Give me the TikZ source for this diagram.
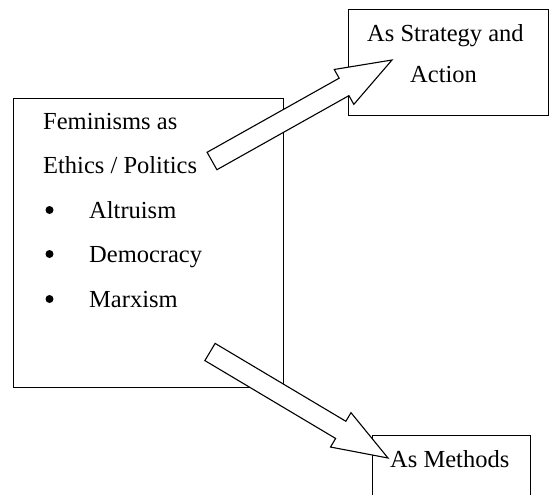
\documentclass[tikz,border=0pt]{standalone}
\usepackage{fontspec}
\setmainfont{Liberation Serif}
\usetikzlibrary{calc,positioning}
\tikzset{
  box/.style={draw,line width=1.1pt,rectangle,anchor=north west,inner sep=0pt},
  txt/.style={anchor=base west,inner sep=0pt,font=\fontsize{24.5}{30}\selectfont},
  dot/.style={circle,fill,inner sep=0pt,minimum size=8pt},
  fatarrow/.style={draw,line width=1.1pt,fill=white,line join=miter}
}
\newcommand{\blockarrow}[2]{%
  \coordinate (hb) at ($(#2)!55pt!(#1)$);
  \draw[fatarrow] ($(#1)!10pt!90:(#2)$) -- ($(hb)!10pt!90:(#2)$) -- ($(hb)!20pt!90:(#2)$)
    -- (#2) -- ($(hb)!20pt!-90:(#2)$) -- ($(hb)!10pt!-90:(#2)$) -- ($(#1)!10pt!-90:(#2)$) -- cycle;}

\begin{document}
\begin{tikzpicture}[x=1pt,y=-1pt]
\useasboundingbox (0,0) rectangle (549,495);
\clip (0,0) rectangle (549,495);
%BOXES
\node[box,minimum width=270pt,minimum height=289pt] (ethics) at (13,98) {};
\node[box,minimum width=200pt,minimum height=106pt] (strategy) at (348,9) {};
\node[box,minimum width=158pt,minimum height=90pt] (methods) at (372,435) {};
%TEXTS
\node[txt] (fem) at (43,129) {Feminisms as};
\node[txt] (pol) at (43,173) {Ethics / Politics};
\foreach \y/\item/\nm in {218/Altruism/alt,262/Democracy/dem,307/Marxism/marx}{
  \node[dot] (b\nm) at (49.5,\y-8) {};
  \node[txt] (\nm) at (89,\y) {\item};
}
\node[txt] (sa) at (367,42) {As Strategy and};
\node[txt] (act) at (410,83) {Action};
\node[txt] (meth) at (390,467) {As Methods};
%ARROWS
\coordinate (t1) at (212,161);
\coordinate (p1) at (392,60);
\coordinate (t2) at (210,352);
\coordinate (p2) at (388,458);
\blockarrow{t1}{p1}
\blockarrow{t2}{p2}
\end{tikzpicture}
\end{document}
